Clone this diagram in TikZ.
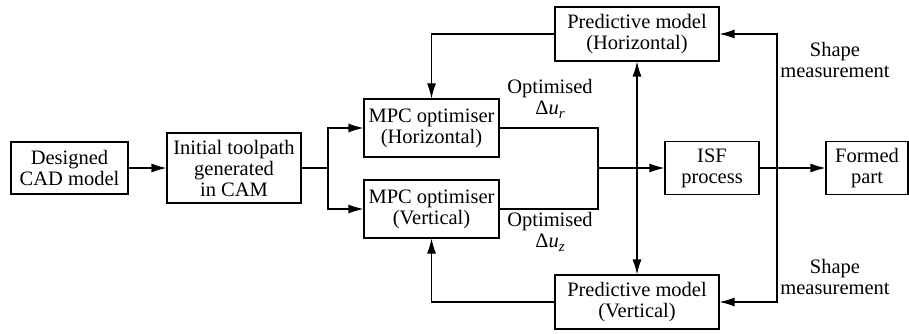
\documentclass[tikz,border=0pt]{standalone}
\usepackage{fontspec}
\setmainfont{Liberation Serif}
\usetikzlibrary{arrows.meta}
\newcommand{\sub}[1]{\raisebox{-4pt}{\fontsize{15}{15}\selectfont\itshape #1}}
\begin{document}
\begin{tikzpicture}[x=1pt,y=-1pt,
  font=\fontsize{20.5}{21}\selectfont,
  blk/.style={draw,line width=1.1pt,align=center,inner sep=0pt},
  lbl/.style={align=center,inner sep=0pt},
  conn/.style={line width=1.1pt},
  arr/.style={conn,-{Latex[length=15pt,width=9pt]}},
  darr/.style={conn,{Latex[length=15pt,width=9pt]}-{Latex[length=15pt,width=9pt]}}]
\useasboundingbox (0,0) rectangle (909,334);

% blocks
\node[blk,minimum width=117pt,minimum height=52pt] (cad) at (69.5,168) {Designed\\CAD model};
\node[blk,minimum width=134pt,minimum height=70pt] (tool) at (234,168) {Initial toolpath\\generated\\in CAM};
\node[blk,minimum width=135pt,minimum height=58pt] (mpch) at (431.5,128) {MPC optimiser\\(Horizontal)};
\node[blk,minimum width=135pt,minimum height=58pt] (mpcv) at (431.5,209) {MPC optimiser\\(Vertical)};
\node[blk,minimum width=164pt,minimum height=54pt] (predh) at (637,34) {Predictive model\\(Horizontal)};
\node[blk,minimum width=164pt,minimum height=54pt] (predv) at (637,302) {Predictive model\\(Vertical)};
\node[blk,minimum width=94pt,minimum height=53pt] (isf) at (712,168) {ISF\\process};
\node[blk,minimum width=82pt,minimum height=53pt] (formed) at (867,168) {Formed\\part};

% labels
\node[lbl] (lur) at (550,99) {Optimised\\Δ\textit{u}\sub{r}};
\node[lbl] (luz) at (550,232) {Optimised\\Δ\textit{u}\sub{z}};
\node[lbl] (lsh) at (835,60) {Shape\\measurement};
\node[lbl] (lsv) at (835,277) {Shape\\measurement};

% junction points
\coordinate (split) at (328,168);
\coordinate (merge) at (598,168);
\coordinate (meas) at (777,168);

% forward path
\draw[arr] (cad) -- (tool);
\draw[conn] (tool.east) -- (split);
\draw[arr] (split) |- (mpch.west);
\draw[arr] (split) |- (mpcv.west);
\draw[conn] (mpch.east) -| (merge);
\draw[conn] (mpcv.east) -| (merge);
\draw[arr] (merge) -- (isf.west);
\draw[arr] (isf.east) -- (formed.west);

% feedback from the predictive models
\draw[arr] (predh.west) -| (mpch.north);
\draw[arr] (predv.west) -| (mpcv.south);
\draw[darr] (predh.south) -- (predv.north);

% shape measurement feedback
\draw[arr] (meas) |- (predh.east);
\draw[arr] (meas) |- (predv.east);
\end{tikzpicture}
\end{document}
